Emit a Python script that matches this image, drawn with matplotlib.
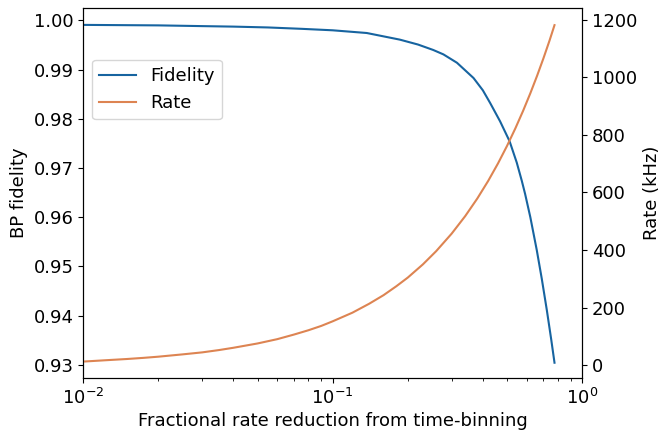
import numpy as np
import matplotlib
matplotlib.use('Agg')
import matplotlib.pyplot as plt

# values
fid_x = [0.01, 0.02, 0.03, 0.04, 0.055, 0.075, 0.10, 0.137, 0.186, 0.22,
         0.253, 0.278, 0.315, 0.367, 0.40, 0.428, 0.469, 0.512, 0.547,
         0.573, 0.591, 0.62, 0.658, 0.689, 0.722, 0.752, 0.775]
fidelity = [0.9991, 0.9990, 0.99885, 0.99875, 0.99858, 0.9983, 0.9980,
            0.99745, 0.9961, 0.9951, 0.9940, 0.9931, 0.9914, 0.9883,
            0.9858, 0.98321, 0.97949, 0.97544, 0.9711, 0.9674, 0.9647,
            0.9600, 0.9533, 0.9475, 0.9411, 0.9351, 0.9304]

rate_x = [0.01, 0.0125, 0.015, 0.0175, 0.02, 0.025, 0.03, 0.035, 0.04,
          0.05, 0.06, 0.07, 0.08, 0.09, 0.10, 0.12, 0.14, 0.16, 0.18, 0.20,
          0.23, 0.26, 0.30, 0.34, 0.38, 0.42, 0.46, 0.50, 0.54, 0.58, 0.62,
          0.66, 0.70, 0.74, 0.775]
rate = [12, 17, 21, 25, 29, 37, 44, 52, 60, 75, 90, 106, 121, 136, 152,
        182, 213, 243, 274, 304, 350, 396, 457, 518, 579, 640, 701, 762,
        823, 884, 945, 1006, 1067, 1128, 1182]

plt.rcParams['font.size'] = 13

fig = plt.figure(figsize=(6.6, 4.3), dpi=100)
ax = fig.add_axes([0.126, 0.121, 0.756, 0.86])
ax2 = ax.twinx()

l1, = ax.plot(fid_x, fidelity, color='#1764a0', lw=1.5)
l2, = ax2.plot(rate_x, rate, color='#dd8452', lw=1.5)

ax.set_xscale('log')
ax.set_xlim(1e-2, 1)
ax.set_ylim(0.9273, 1.0025)
ax2.set_ylim(-45, 1241)
ax.set_yticks([0.93, 0.94, 0.95, 0.96, 0.97, 0.98, 0.99, 1.00])
ax2.set_yticks([0, 200, 400, 600, 800, 1000, 1200])

ax.set_xlabel('Fractional rate reduction from time-binning', labelpad=3)
ax.set_ylabel('BP fidelity')
ax2.set_ylabel('Rate (kHz)')

ax.legend([l1, l2], ['Fidelity', 'Rate'], loc='upper left',
          bbox_to_anchor=(0.0, 0.885))

fig.savefig('out.png', dpi=100)
